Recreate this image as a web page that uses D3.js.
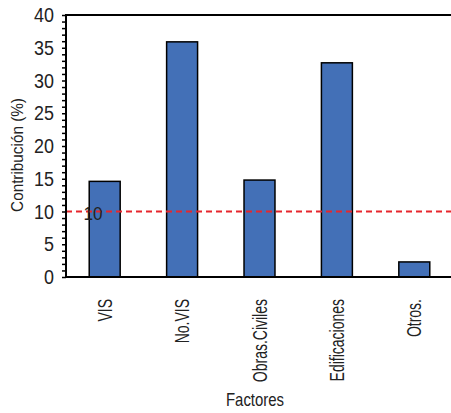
<!DOCTYPE html>
<html><head><meta charset="utf-8">
<script src="https://cdn.jsdelivr.net/npm/d3@7"></script>
<style>
body{margin:0;background:#fff;}
text{font-family:"Liberation Sans","Arial",sans-serif;fill:#222;}
</style></head>
<body><svg id="c" width="451" height="413"></svg>
<script>
const categories = ["VIS","No.VIS","Obras.Civiles","Edificaciones","Otros."];
const values = [14.6, 35.9, 14.8, 32.7, 2.3];
const yTicks = [0,5,10,15,20,25,30,35,40];
const threshold = 10;
const yLabel = "Contribución (%)";
const xLabel = "Factores";

const svg = d3.select("#c");
const L = 66, R = 453, T = 15, B = 277;
const x = d3.scaleBand().domain(categories).range([L, R]).paddingInner(0.6).paddingOuter(0.3);
const y = d3.scaleLinear().domain([0, 40]).range([B, T]);

// bars
svg.append("g").selectAll("rect").data(values).join("rect")
  .attr("x", (d,i) => x(categories[i]))
  .attr("y", d => y(d))
  .attr("width", x.bandwidth())
  .attr("height", d => y(0) - y(d))
  .attr("fill", "#4370b7")
  .attr("stroke", "#000")
  .attr("stroke-width", 1.5);

// threshold line
svg.append("line")
  .attr("x1", L).attr("x2", 451)
  .attr("y1", y(threshold)).attr("y2", y(threshold))
  .attr("stroke", "#e8262c").attr("stroke-width", 1.8)
  .attr("stroke-dasharray", "6,4");
svg.append("text")
  .attr("transform", `translate(93,${y(threshold) + 8}) scale(0.9,1)`)
  .attr("text-anchor", "middle")
  .style("font-size", "19px")
  .text(threshold);

// y axis (ticks every unit)
const minor = d3.range(0, 41, 1);
const yAxis = d3.axisLeft(y).tickValues(minor).tickSize(4).tickFormat("");
const gy = svg.append("g").attr("transform", `translate(${L},0)`).call(yAxis);
gy.select(".domain").remove();
gy.selectAll(".tick line").attr("stroke", "#000").attr("stroke-width", 1.5);
svg.append("g").selectAll("text").data(yTicks).join("text")
  .attr("transform", d => `translate(${L - 12},${y(d) + 7}) scale(0.92,1)`)
  .attr("text-anchor", "end")
  .style("font-size", "19.5px")
  .text(d => d);
svg.append("line").attr("x1", L).attr("x2", L).attr("y1", T - 1).attr("y2", B + 1)
  .attr("stroke", "#000").attr("stroke-width", 2);

// top and bottom frame lines
svg.append("line").attr("x1", L).attr("x2", 451).attr("y1", T).attr("y2", T)
  .attr("stroke", "#000").attr("stroke-width", 2);
svg.append("line").attr("x1", L).attr("x2", 451).attr("y1", B).attr("y2", B)
  .attr("stroke", "#000").attr("stroke-width", 2);

// x labels
svg.append("g").selectAll("text").data(categories).join("text")
  .attr("transform", d => `translate(${x(d) + x.bandwidth()/2 + 7},299) rotate(-90) scale(0.7,1)`)
  .attr("text-anchor", "end")
  .style("font-size", "20px")
  .text(d => d);

// axis titles
svg.append("text")
  .attr("transform", "translate(23,155) rotate(-90) scale(0.9,1)")
  .attr("text-anchor", "middle")
  .style("font-size", "17px")
  .text(yLabel);
svg.append("text")
  .attr("transform", "translate(255,406) scale(0.83,1)")
  .attr("text-anchor", "middle")
  .style("font-size", "18px")
  .text(xLabel);
</script></body></html>
